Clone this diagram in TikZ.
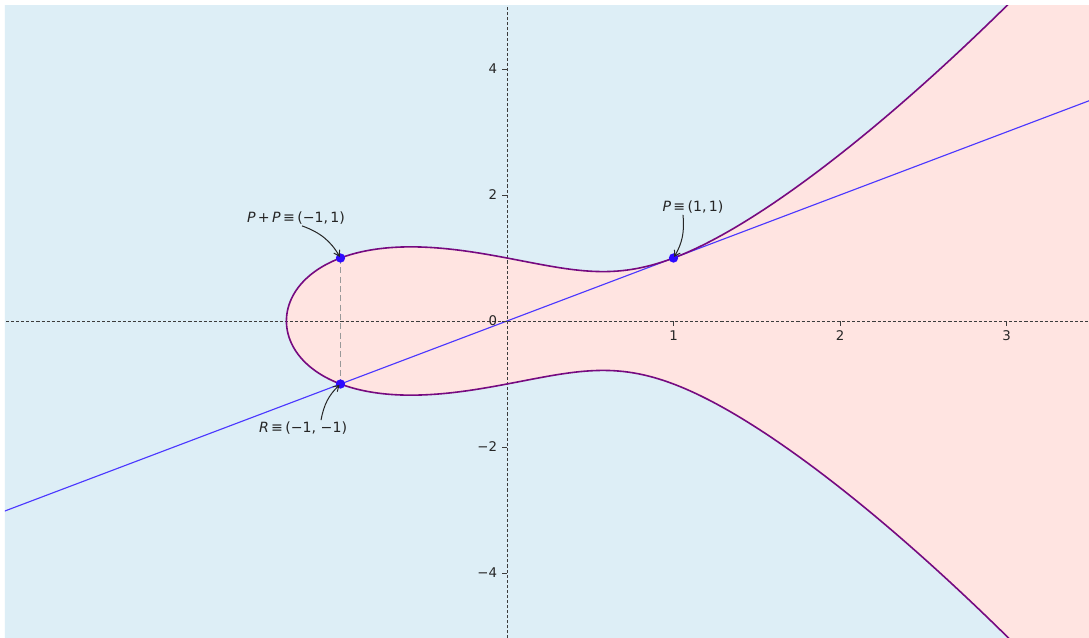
\documentclass[tikz,border=0pt]{standalone}
\usepackage{fontspec}
\setmainfont{DejaVu Sans}
\usetikzlibrary{arrows.meta}
\definecolor{bgblue}{RGB}{221,238,246}
\definecolor{pinkfill}{RGB}{255,228,225}
\definecolor{curvepurple}{RGB}{118,10,128}
\definecolor{lineblue}{RGB}{75,55,255}
\definecolor{dotblue}{RGB}{45,10,255}
\definecolor{axisgray}{RGB}{60,60,60}
\definecolor{labelgray}{RGB}{38,38,38}
\begin{document}
\begin{tikzpicture}[x=124.875pt,y=47.25pt,
  font=\fontsize{10.6}{12.5}\selectfont,
  axisdash/.style={draw=axisgray,line width=0.7pt,dash pattern=on 2.3pt off 1.5pt},
  tickmark/.style={draw=axisgray,line width=0.6pt},
  ticklab/.style={text=labelgray,inner sep=0pt,font=\fontsize{10}{12}\selectfont},
  curvestyle/.style={draw=curvepurple,line width=1.2pt},
  tangentstyle/.style={draw=lineblue,line width=0.85pt},
  dotstyle/.style={fill=dotblue},
  annlabel/.style={text=labelgray,inner sep=1pt},
  annarrow/.style={draw=labelgray,line width=0.75pt,-{Straight Barb[length=4pt,width=5pt]},shorten >=1pt},
  guide/.style={draw=gray!80,line width=1.1pt,dash pattern=on 4.5pt off 2.5pt}
]
\useasboundingbox (-3.04505,-5.01587) rectangle (3.4955,5.09524);
\fill[white] (-3.04505,-5.01587) rectangle (3.4955,5.09524);
\begin{scope}
\clip (-3.015,-5.01587) rectangle (3.4955,5.0159);
\fill[bgblue] (-3.1,-5.2) rectangle (3.6,5.2);
\fill[pinkfill] plot[domain=-2.0916:2.0916,samples=401,variable=\t]
  ({-1.324718+(\t)*(\t)},
   {sign(\t)*sqrt(max(0,(-1.324718+(\t)*(\t))*(-1.324718+(\t)*(\t))*(-1.324718+(\t)*(\t))-(-1.324718+(\t)*(\t))+1))})
  -- (3.6,5.2) -- (3.6,-5.2) -- cycle;
\coordinate (yb) at (0,-5.2);
\coordinate (yt) at (0,5.2);
\coordinate (xl) at (-3.1,0);
\coordinate (xr) at (3.6,0);
\draw[axisdash] (yb) -- (yt);
\draw[axisdash] (xl) -- (xr);
\coordinate (Ls) at (-3.1,-3.1);
\coordinate (Le) at (3.6,3.6);
\draw[tangentstyle] (Ls) -- (Le);
\draw[curvestyle] plot[domain=-2.0916:2.0916,samples=401,variable=\t]
  ({-1.324718+(\t)*(\t)},
   {sign(\t)*sqrt(max(0,(-1.324718+(\t)*(\t))*(-1.324718+(\t)*(\t))*(-1.324718+(\t)*(\t))-(-1.324718+(\t)*(\t))+1))});
\end{scope}
% ticks
\foreach \yv/\yl in {4/4,2/2,0/0,-2/{−2},-4/{−4}}{
  \draw[tickmark] (0,\yv) -- ++(-3.7pt,0);
  \node[ticklab,anchor=east] (ty\yv) at ([xshift=-7.2pt]0,\yv) {\yl};
}
\foreach \xv in {1,2,3}{
  \draw[tickmark] (\xv,0) -- ++(0,-3.7pt);
  \node[ticklab,anchor=north] (tx\xv) at ([yshift=-7.2pt]\xv,0) {\xv};
}
% points
\coordinate (P) at (1,1);
\coordinate (PP) at (-1,1);
\coordinate (R) at (-1,-1);
\draw[guide] (PP) -- (R);
\fill[dotstyle] (P) circle (3.5pt);
\fill[dotstyle] (PP) circle (3.5pt);
\fill[dotstyle] (R) circle (3.5pt);
% annotations
\node[annlabel] (tPP) at (-1.267,1.635) {\textit{P}\,+\,\textit{P}\,≡\,(−1,\,1)};
\node[annlabel] (tP) at (1.117,1.810) {\textit{P}\,≡\,(1,\,1)};
\node[annlabel] (tR) at (-1.225,-1.698) {\textit{R}\,≡\,(−1, −1)};
\draw[annarrow] ([xshift=4.5pt]tPP.south) to[bend left=20] (PP);
\draw[annarrow] ([xshift=-7.5pt]tP.south) to[bend left=18] (P);
\draw[annarrow] ([xshift=13.5pt]tR.north) to[bend left=18] (R);
\end{tikzpicture}
\end{document}
